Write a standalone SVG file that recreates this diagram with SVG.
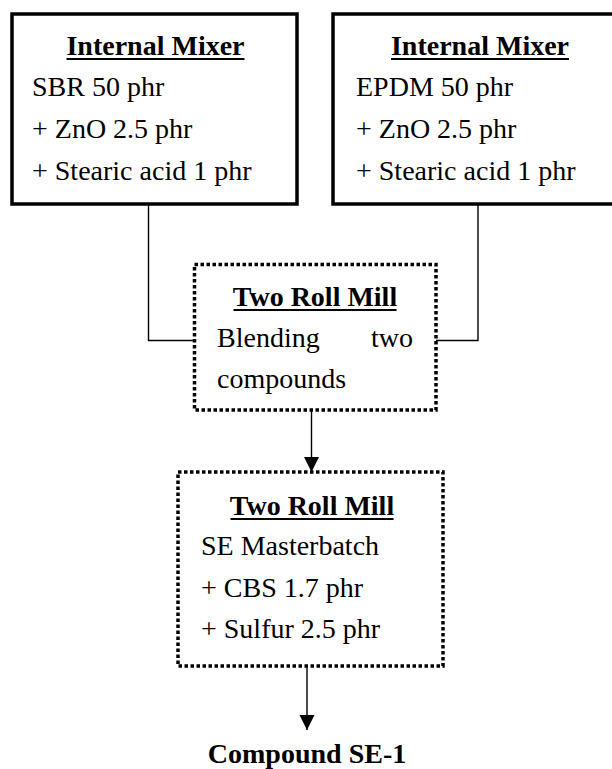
<svg xmlns="http://www.w3.org/2000/svg" width="612" height="769" viewBox="0 0 612 769">
  <defs>
    <style>
      .box { fill: #ffffff; stroke: #000000; stroke-width: 3.5; }
      .dot { fill: #ffffff; stroke: #000000; stroke-width: 3.5; stroke-dasharray: 3.5 2.5; }
      .wire { fill: none; stroke: #000000; stroke-width: 1.4; }
      .txt { font-size: 28px; fill: #000000; }
      .ttl { font-size: 28px; font-weight: bold; fill: #000000; text-anchor: middle; }
      .ul { stroke: #000000; stroke-width: 2; }
    </style>
    <marker id="arrow" markerUnits="userSpaceOnUse" markerWidth="16" markerHeight="16" viewBox="0 0 16 16" refX="15" refY="8" orient="auto">
      <path d="M0,0.5 L15,8 L0,15.5 Z" fill="#000000"/>
    </marker>
  </defs>
  <rect width="612" height="769" fill="#ffffff"/>

  <!-- connectors -->
  <g id="connectors">
    <polyline class="wire" points="148.5,204 148.5,340.5 194.5,340.5"/>
    <polyline class="wire" points="478,204 478,340.5 436,340.5"/>
    <line class="wire" x1="311.5" y1="410" x2="311.5" y2="472" marker-end="url(#arrow)"/>
    <line class="wire" x1="307" y1="666" x2="307" y2="730" marker-end="url(#arrow)"/>
  </g>

  <g font-family="'Liberation Serif', 'Times New Roman', 'DejaVu Serif', serif">
    <!-- SBR internal mixer -->
    <g id="mixer-sbr">
      <rect class="box" x="12" y="14" width="285" height="190"/>
      <text class="ttl" x="155.5" y="55">Internal Mixer</text>
      <line class="ul" x1="66.5" y1="59" x2="244.5" y2="59"/>
      <text class="txt" x="32" y="96">SBR 50 phr</text>
      <text class="txt" x="32" y="138">+ ZnO 2.5 phr</text>
      <text class="txt" x="32" y="180">+ Stearic acid 1 phr</text>
    </g>

    <!-- EPDM internal mixer -->
    <g id="mixer-epdm">
      <rect class="box" x="333" y="14" width="292" height="190"/>
      <text class="ttl" x="480" y="55">Internal Mixer</text>
      <line class="ul" x1="391" y1="59" x2="569" y2="59"/>
      <text class="txt" x="356" y="96">EPDM 50 phr</text>
      <text class="txt" x="356" y="138">+ ZnO 2.5 phr</text>
      <text class="txt" x="356" y="180">+ Stearic acid 1 phr</text>
    </g>

    <!-- blending on two roll mill -->
    <g id="mill-blend">
      <rect class="dot" x="194.5" y="264.5" width="241.5" height="145.5"/>
      <text class="ttl" x="315" y="306">Two Roll Mill</text>
      <line class="ul" x1="233.5" y1="310" x2="396.5" y2="310"/>
      <text class="txt" x="217" y="347">Blending</text>
      <text class="txt" x="413" y="347" text-anchor="end">two</text>
      <text class="txt" x="217" y="388">compounds</text>
    </g>

    <!-- curatives on two roll mill -->
    <g id="mill-cure">
      <rect class="dot" x="178" y="472" width="265" height="194"/>
      <text class="ttl" x="312" y="515">Two Roll Mill</text>
      <line class="ul" x1="230.5" y1="519" x2="393.5" y2="519"/>
      <text class="txt" x="201" y="555">SE Masterbatch</text>
      <text class="txt" x="201" y="597">+ CBS 1.7 phr</text>
      <text class="txt" x="201" y="638">+ Sulfur 2.5 phr</text>
    </g>

    <!-- final compound -->
    <g id="compound">
      <text class="ttl" x="307" y="763">Compound SE-1</text>
    </g>
  </g>
</svg>
